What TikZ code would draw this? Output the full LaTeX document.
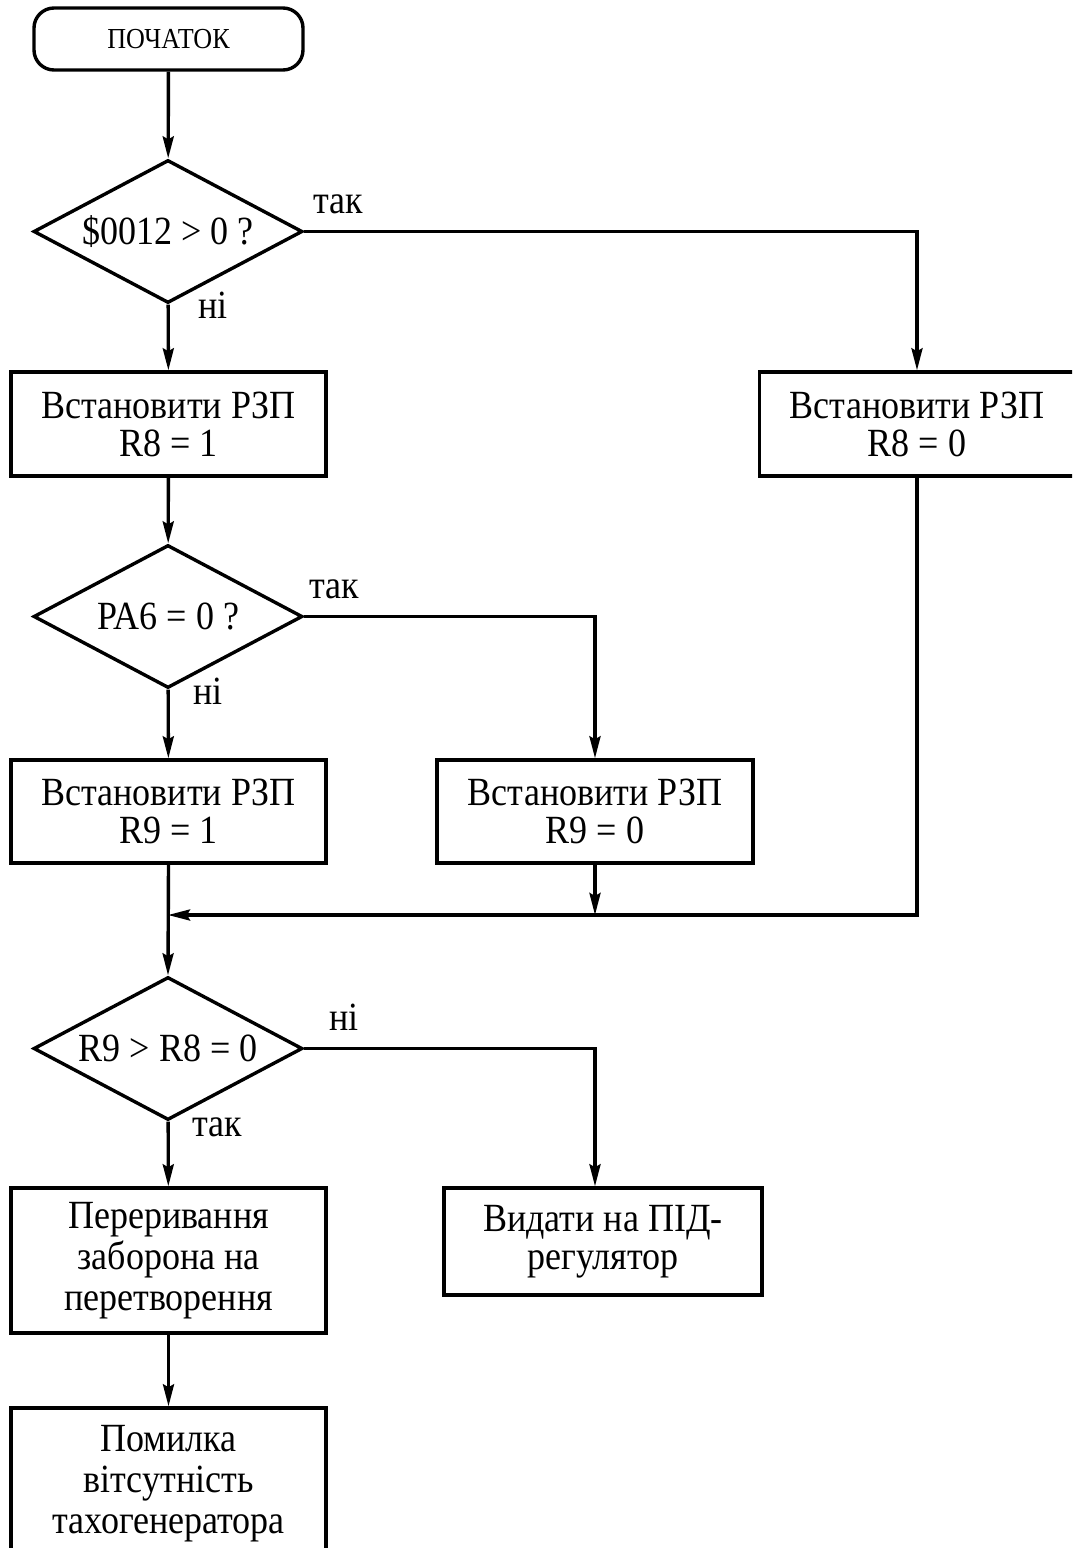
\documentclass[tikz,border=0pt]{standalone}
\usepackage{fontspec}
\setmainfont{Liberation Serif}[FakeStretch=0.9]
\usetikzlibrary{shapes.geometric,arrows.meta}

\begin{document}
\begin{tikzpicture}[x=1pt,y=-1pt,
  every node/.style={font=\fontsize{40}{38}\selectfont},
  arr/.style={line width=3.4pt,-{Stealth[length=22pt,width=11pt,inset=3pt]}},
  proc/.style={draw,line width=3.4pt,rectangle,minimum width=315pt,inner sep=0pt,align=center},
  decision/.style={draw,line width=3.4pt,diamond,aspect=1.88,minimum width=269pt,minimum height=143pt,inner sep=0pt,align=center},
  term/.style={draw,line width=3.4pt,rectangle,rounded corners=20pt,minimum width=269pt,minimum height=62pt,font=\fontsize{29}{30}\selectfont},
  lbl/.style={anchor=base,inner sep=0pt}
]
\useasboundingbox (0,0) rectangle (1072,1548);
\clip (0,0) rectangle (1072,1548);

% blocks
\node[term] (start) at (168.5,39) {ПОЧАТОК};
\node[decision] (d1) at (168,231.5) {\$0012 > 0 ?};
\node[proc,minimum height=104pt] (r8a) at (168.5,424) {Встановити РЗП\\R8 = 1};
\node[proc,minimum height=104pt] (r8b) at (917,424) {Встановити РЗП\\R8 = 0};
\node[decision] (d2) at (168,616.5) {PA6 = 0 ?};
\node[proc,minimum height=103pt] (r9a) at (168.5,811.5) {Встановити РЗП\\R9 = 1};
\node[proc,minimum height=103pt,minimum width=316pt] (r9b) at (595,811.5) {Встановити РЗП\\R9 = 0};
\node[decision] (d3) at (168,1048.5) {R9 > R8 = 0};
\node[proc,minimum height=145pt,font=\fontsize{40}{41}\selectfont] (stop) at (168.5,1260.5) {Переривання\\ заборона на\\перетворення};
\node[proc,minimum height=107pt,minimum width=318pt] (pid) at (603,1241.5) {Видати на ПІД-\\регулятор};
\node[proc,minimum height=152pt,font=\fontsize{40}{41}\selectfont] (err) at (168.5,1484) {Помилка\\вітсутність\\тахогенератора};

% branch labels
\node[lbl] (y1) at ([shift={(34,-18)}]d1.east) {так};
\node[lbl] (n1) at ([shift={(45,14)}]d1.south) {ні};
\node[lbl] (y2) at ([shift={(30,-18)}]d2.east) {так};
\node[lbl] (n2) at ([shift={(40,15)}]d2.south) {ні};
\node[lbl] (n3) at ([shift={(40,-18)}]d3.east) {ні};
\node[lbl] (y3) at ([shift={(49,15)}]d3.south) {так};

% junction on the merge line
\coordinate (m) at (168,915);

% connectors
\draw[arr] (start) -- (d1);
\draw[arr] (d1) -- (r8a);
\draw[arr] (d1.east) -| (r8b.north);
\draw[arr] (r8a) -- (d2);
\draw[arr] (d2) -- (r9a);
\draw[arr] (d2.east) -| (r9b.north);
\draw[arr] (r8b.south) |- (m);
\draw[arr] (r9b.south) -- (r9b.south |- m);
\draw[arr] (r9a.south) -- (d3.north);
\draw[arr] (d3) -- (stop);
\draw[arr] (d3.east) -| ([xshift=-8pt]pid.north);
\draw[arr] (stop) -- (err);
\end{tikzpicture}
\end{document}
